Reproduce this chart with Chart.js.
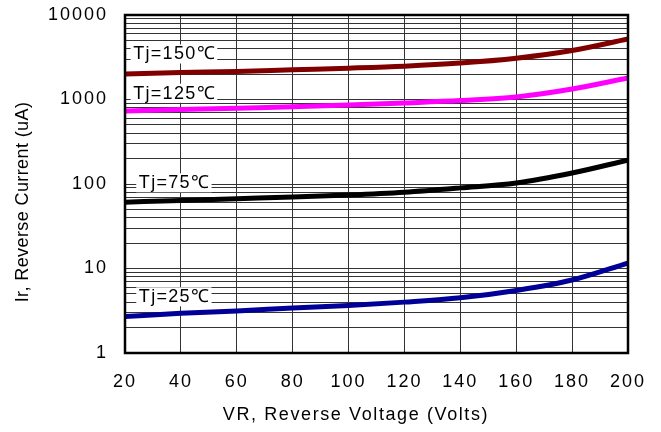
<!DOCTYPE html>
<html><head><meta charset="utf-8">
<script src="https://cdn.jsdelivr.net/npm/chart.js@4/dist/chart.umd.min.js"></script>
<style>html,body{margin:0;padding:0;background:#fff;}#wrap{width:661px;height:432px;}</style>
</head><body><div id="wrap"><canvas id="c" width="661" height="432"></canvas></div>
<script>
const voltages = [20, 40, 60, 80, 100, 120, 140, 160, 180, 200];
const tj150 = [2000, 2080, 2150, 2250, 2350, 2480, 2700, 3080, 3800, 5200];
const tj125 = [730, 760, 790, 820, 860, 910, 970, 1070, 1330, 1800];
const tj75 = [61, 64, 67, 70, 74, 80, 90, 103, 135, 192];
const tj25 = [2.7, 2.95, 3.15, 3.4, 3.65, 4.0, 4.5, 5.5, 7.3, 11.6];
const seriesNames = ['Tj=150℃', 'Tj=125℃', 'Tj=75℃', 'Tj=25℃'];
const labelX = [37.5, 37.5, 37.5, 37.5];
const labelY = [3410, 1170, 102, 4.56];
const xTicks = [20, 40, 60, 80, 100, 120, 140, 160, 180, 200];
const yTicks = [1, 10, 100, 1000, 10000];
const xTitle = 'VR, Reverse Voltage (Volts)';
const yTitle = 'Ir, Reverse Current (uA)';

const FONT = '"Liberation Sans", Arial, sans-serif';
const colors = ['#800000', '#ff00ff', '#000000', '#000099'];
const all = [tj150, tj125, tj75, tj25];

const datasets = all.map((arr, i) => ({
  label: seriesNames[i],
  data: voltages.map((v, j) => ({x: v, y: arr[j]})),
  borderColor: colors[i], backgroundColor: colors[i],
  borderWidth: 5, pointRadius: 0, tension: 0.4, cubicInterpolationMode: 'monotone', fill: false
}));

const spacingPlugin = {
  id: 'spacing',
  beforeLayout(chart) { chart.ctx.letterSpacing = '2px'; },
  beforeDraw(chart) { chart.ctx.letterSpacing = '2px'; }
};

const labelPlugin = {
  id: 'tjLabels',
  afterDatasetsDraw(chart) {
    const ctx = chart.ctx, xs = chart.scales.x, ys = chart.scales.y;
    ctx.save();
    ctx.letterSpacing = '1.3px';
    ctx.font = '18px ' + FONT;
    ctx.textAlign = 'center'; ctx.textBaseline = 'middle';
    seriesNames.forEach((t, i) => {
      const px = xs.getPixelForValue(labelX[i]);
      const py = ys.getPixelForValue(labelY[i]);
      const w = ctx.measureText(t).width + 4;
      ctx.fillStyle = '#fff';
      ctx.fillRect(px - w / 2, py - 10, w, 19);
      ctx.fillStyle = '#000';
      ctx.fillText(t, px + 0.6, py);
    });
    ctx.restore();
  }
};

const framePlugin = {
  id: 'frame',
  afterDraw(chart) {
    const a = chart.chartArea, ctx = chart.ctx;
    ctx.save(); ctx.strokeStyle = '#000'; ctx.lineWidth = 2.5;
    ctx.strokeRect(a.left, a.top, a.right - a.left, a.bottom - a.top);
    ctx.fillStyle = '#000';
    ctx.font = '18px ' + FONT;
    ctx.textAlign = 'center'; ctx.textBaseline = 'middle';
    ctx.letterSpacing = '1.6px';
    ctx.fillText(xTitle, 356, 415);
    ctx.translate(23, 202); ctx.rotate(-Math.PI / 2);
    ctx.letterSpacing = '0.4px';
    ctx.fillText(yTitle, 0, 0);
    ctx.restore();
  }
};

new Chart(document.getElementById('c'), {
  type: 'line',
  data: { datasets },
  options: {
    responsive: false, animation: false,
    layout: { padding: { top: 15, right: 33, left: 0, bottom: 0 } },
    plugins: { legend: { display: false }, tooltip: { enabled: false } },
    scales: {
      x: {
        type: 'linear', min: 20, max: 200,
        afterBuildTicks(s) { s.ticks = xTicks.map(v => ({value: v})); },
        grid: { color: '#333', lineWidth: 1, drawTicks: false },
        border: { display: false },
        ticks: { color: '#000', font: { size: 18, family: FONT }, padding: 18, maxRotation: 0 },
        afterFit(s) { s.height = 79; s.paddingLeft = 0; s.paddingRight = 0; }
      },
      y: {
        type: 'logarithmic', min: 1, max: 10000,
        afterBuildTicks(s) {
          const t = [];
          for (let d = 1; d < 10000; d *= 10) for (let k = 1; k < 10; k++) t.push({value: d * k});
          t.push({value: 10000});
          s.ticks = t;
        },
        grid: { color: '#333', lineWidth: 1, drawTicks: false },
        border: { display: false },
        ticks: {
          autoSkip: false, color: '#000', font: { size: 18, family: FONT }, padding: 17,
          callback: (v) => yTicks.includes(v) ? String(v) : ''
        },
        afterFit(s) { s.width = 125; s.paddingTop = 0; s.paddingBottom = 0; }
      }
    }
  },
  plugins: [spacingPlugin, labelPlugin, framePlugin]
});
</script></body></html>
